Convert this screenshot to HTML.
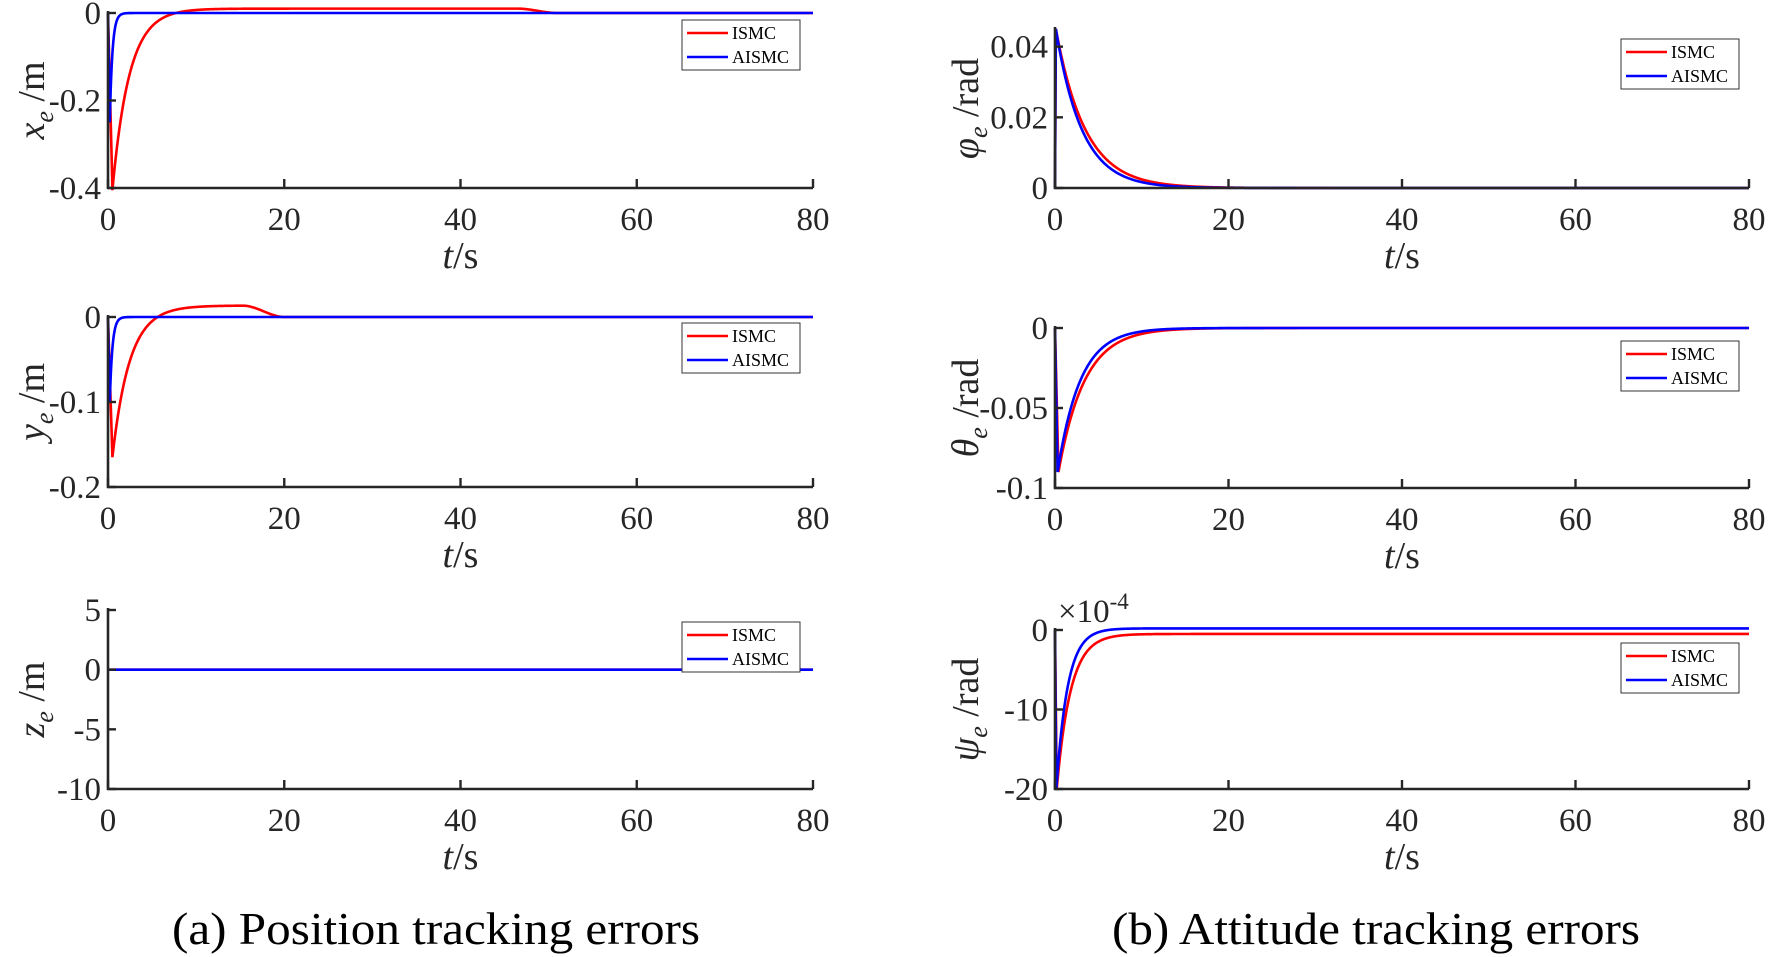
<!DOCTYPE html>
<html><head><meta charset="utf-8"><style>
html,body{margin:0;padding:0;background:#fff;}
svg{display:block;font-family:"Liberation Serif",serif;}
</style></head><body>
<svg id="s" width="1770" height="957" xmlns="http://www.w3.org/2000/svg">
<text x="436" y="944" font-size="46" text-anchor="middle" textLength="528" lengthAdjust="spacingAndGlyphs">(a)  Position tracking errors</text>
<text x="1376" y="944" font-size="46" text-anchor="middle" textLength="528" lengthAdjust="spacingAndGlyphs">(b)  Attitude tracking errors</text>
</svg>
<script>
const S=document.getElementById('s');const NS='http://www.w3.org/2000/svg';
function el(t,a,txt){const e=document.createElementNS(NS,t);for(const k in a)e.setAttribute(k,a[k]);if(txt!==undefined)e.textContent=txt;S.appendChild(e);return e;}
function panel(o){
 const {x0,x1,ytop,ybot,ymin,ymax,yticks,ylab,leg,series,ytl,extra}=o;
 const X=t=>x0+(x1-x0)*t/80, Y=v=>ybot-(ybot-ytop)*(v-ymin)/(ymax-ymin);
 series.forEach(s=>{let d='';for(let i=0;i<=1600;i++){const t=i*0.05;d+=(i?'L':'M')+X(t).toFixed(2)+' '+Y(s.f(t)).toFixed(2);}
  el('path',{d:'M'+x0+' '+Y(0).toFixed(2)+' L'+d.slice(1),fill:'none',stroke:s.c,'stroke-width':2.6});});
 el('path',{d:`M${x0} ${ytop-2} V${ybot} H${x1}`,fill:'none',stroke:'#262626','stroke-width':2.6});
 for(let t=0;t<=80;t+=20){el('line',{x1:X(t),x2:X(t),y1:ybot,y2:ybot-9,stroke:'#262626','stroke-width':2.4});
  el('text',{x:X(t),y:ybot+42,'font-size':33,'text-anchor':'middle',fill:'#262626'},String(t));}
 yticks.forEach(([v,l])=>{el('line',{x1:x0,x2:x0+8,y1:Y(v),y2:Y(v),stroke:'#262626','stroke-width':2.4});
  el('text',{x:x0-7,y:Y(v)+11,'font-size':33,'text-anchor':'end',fill:'#262626'},l);});
 const tx=el('text',{x:(x0+x1)/2,y:ybot+80,'font-size':38,'text-anchor':'middle',fill:'#262626'});
 tx.innerHTML='<tspan font-style="italic">t</tspan>/s';
 const yl=el('text',{x:0,y:0,'font-size':38,'text-anchor':'middle',fill:'#262626',transform:`translate(${ytl},${(ytop+ybot)/2}) rotate(-90)`});
 yl.innerHTML=ylab;
 const [lx,ly]=leg;
 el('rect',{x:lx,y:ly,width:118,height:50,fill:'#fff',stroke:'#333','stroke-width':1});
 el('line',{x1:lx+5,x2:lx+46,y1:ly+13,y2:ly+13,stroke:'#f00','stroke-width':2.6});
 el('line',{x1:lx+5,x2:lx+46,y1:ly+37,y2:ly+37,stroke:'#00f','stroke-width':2.6});
 el('text',{x:lx+50,y:ly+19,'font-size':18},'ISMC');
 el('text',{x:lx+50,y:ly+43,'font-size':18},'AISMC');
 if(extra)extra(X,Y);
}
const LX0=108,LX1=813,RX0=1055,RX1=1749;
const sm=(a,b,t)=>{if(t<=a)return 0;if(t>=b)return 1;const u=(t-a)/(b-a);return u*u*(3-2*u);};
const sub=(a,u)=>`<tspan font-style="italic">${a}</tspan><tspan font-style="italic" font-size="26" dy="9">e</tspan><tspan dy="-9"> /${u}</tspan>`;
panel({x0:LX0,x1:LX1,ytop:13,ybot:188,ymin:-0.4,ymax:0,yticks:[[0,'0'],[-0.2,'-0.2'],[-0.4,'-0.4']],ytl:44,
 ylab:sub('x','m'),leg:[682,20],
 series:[{c:'#f00',f:t=>{if(t<0.5)return -0.8*t;const v=-0.405*Math.exp(-(t-0.5)/1.9)+0.01*(1-Math.exp(-(t-0.5)/3));return v-0.01*sm(46.5,51,t)*(1-Math.exp(-(t-0.5)/3));}},
  {c:'#00f',f:t=>t<0.2?-1.25*t:-0.25*Math.exp(-(t-0.2)/0.3)}]});
panel({x0:LX0,x1:LX1,ytop:317,ybot:487,ymin:-0.2,ymax:0.0,yticks:[[0,'0'],[-0.1,'-0.1'],[-0.2,'-0.2']],ytl:44,
 ylab:sub('y','m'),leg:[682,323],
 series:[{c:'#f00',f:t=>{if(t<0.5)return -0.33*t;const r=(1-Math.exp(-(t-0.5)/3));return -0.165*Math.exp(-(t-0.5)/1.9)+0.0135*r*(1-sm(15.3,20,t));}},
  {c:'#00f',f:t=>t<0.2?-0.5*t:-0.1*Math.exp(-(t-0.2)/0.3)}]});
panel({x0:LX0,x1:LX1,ytop:610,ybot:789,ymin:-10,ymax:5,yticks:[[5,'5'],[0,'0'],[-5,'-5'],[-10,'-10']],ytl:44,
 ylab:sub('z','m'),leg:[682,622],
 series:[{c:'#f00',f:t=>0},{c:'#00f',f:t=>0}]});
panel({x0:RX0,x1:RX1,ytop:29,ybot:188,ymin:0,ymax:0.045,yticks:[[0,'0'],[0.02,'0.02'],[0.04,'0.04']],ytl:978,
 ylab:sub('φ','rad'),leg:[1621,39],
 series:[{c:'#f00',f:t=>t<0.1?0.45*t:0.045*Math.exp(-(t-0.1)/3.4)},{c:'#00f',f:t=>t<0.1?0.45*t:0.045*Math.exp(-(t-0.1)/3.0)}]});
panel({x0:RX0,x1:RX1,ytop:328,ybot:488,ymin:-0.1,ymax:0,yticks:[[0,'0'],[-0.05,'-0.05'],[-0.1,'-0.1']],ytl:978,
 ylab:sub('θ','rad'),leg:[1621,341],
 series:[{c:'#f00',f:t=>t<0.4?-0.225*t:-0.09*Math.exp(-(t-0.4)/3.0)},{c:'#00f',f:t=>t<0.3?-0.3*t:-0.09*Math.exp(-(t-0.3)/2.6)}]});
panel({x0:RX0,x1:RX1,ytop:630,ybot:789,ymin:-20,ymax:0,yticks:[[0,'0'],[-10,'-10'],[-20,'-20']],ytl:978,
 ylab:sub('ψ','rad'),leg:[1621,643],
 series:[{c:'#f00',f:t=>t<0.2?-100*t:-0.5-19.5*Math.exp(-(t-0.2)/1.6)},{c:'#00f',f:t=>t<0.15?-133*t:0.2-20.2*Math.exp(-(t-0.15)/1.3)}],
 extra:()=>{const e=el('text',{x:1058,y:622,'font-size':33,fill:'#262626'});e.innerHTML='×10<tspan font-size="23" dy="-13">-4</tspan>';}});
</script>
</body></html>
